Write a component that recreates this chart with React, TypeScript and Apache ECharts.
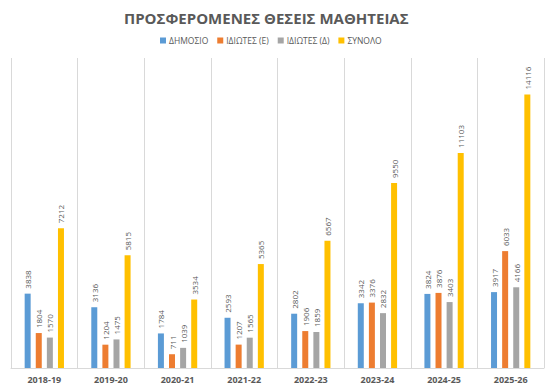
import React, { useEffect, useRef } from "react";
import * as echarts from "echarts";

const categories = ["2018-19", "2019-20", "2020-21", "2021-22", "2022-23", "2023-24", "2024-25", "2025-26"];
const dimosio = [3838, 3136, 1784, 2593, 2802, 3342, 3824, 3917];
const idiotesE = [1804, 1204, 711, 1207, 1906, 3376, 3876, 6033];
const idiotesD = [1570, 1475, 1039, 1565, 1859, 2832, 3403, 4166];
const synolo = [7212, 5815, 3534, 5365, 6567, 9550, 11103, 14116];
const seriesNames = ["ΔΗΜΟΣΙΟ", "ΙΔΙΩΤΕΣ (Ε)", "ΙΔΙΩΤΕΣ (Δ)", "ΣΥΝΟΛΟ"];
const colors = ["#5B9BD5", "#ED7D31", "#A5A5A5", "#FFC000"];

export default function App() {
  const ref = useRef<HTMLDivElement>(null);
  useEffect(() => {
    if (!ref.current) return;
    const chart = echarts.init(ref.current, undefined, { renderer: "svg" });
    const data = [dimosio, idiotesE, idiotesD, synolo];
    chart.setOption({
      animation: false,
      textStyle: { fontFamily: "Open Sans, sans-serif" },
      title: {
        text: "ΠΡΟΣΦΕΡΟΜΕΝΕΣ ΘΕΣΕΙΣ ΜΑΘΗΤΕΙΑΣ",
        left: 119,
        top: 5,
        textStyle: { fontSize: 15, fontWeight: "bold", color: "#595959", fontFamily: "Open Sans, sans-serif" },
      },
      legend: {
        top: 31,
        left: 155,
        itemWidth: 6,
        itemHeight: 6,
        itemGap: 9,
        icon: "rect",
        textStyle: { fontSize: 8.5, color: "#595959", padding: [0, 0, 0, -2] },
        data: seriesNames,
      },
      grid: { left: 11, right: 6, top: 58, bottom: 21, containLabel: false },
      xAxis: {
        type: "category",
        data: categories,
        axisLine: { lineStyle: { color: "#D9D9D9" } },
        axisTick: { show: false },
        splitLine: { show: true, lineStyle: { color: "#D9D9D9", width: 1 } },
        axisLabel: { color: "#595959", fontSize: 9, fontWeight: "bold", margin: 7 },
      },
      yAxis: {
        type: "value",
        min: 0,
        max: 16000,
        show: false,
        splitLine: { show: false },
      },
      series: seriesNames.map((name, i) => ({
        name,
        type: "bar",
        data: data[i],
        barWidth: 6,
        barGap: "85%",
        itemStyle: { color: colors[i] },
        label: {
          show: true,
          position: "top",
          rotate: 90,
          align: "left",
          verticalAlign: "middle",
          distance: 5,
          fontSize: 8,
          color: "#595959",
        },
      })),
    });
    return () => chart.dispose();
  }, []);
  return <div ref={ref} style={{ width: 550, height: 389, position: "absolute", left: 0, top: 0, background: "#fff" }} />;
}
